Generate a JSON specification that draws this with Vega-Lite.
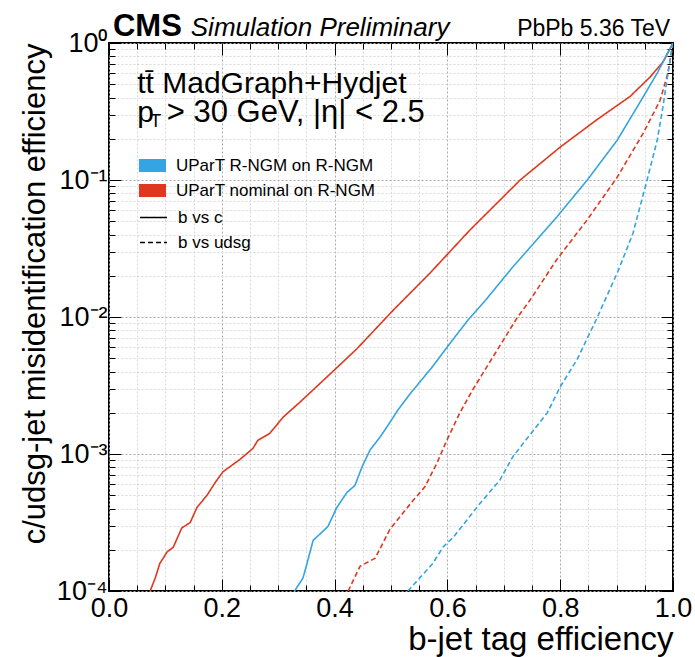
{
  "$schema": "https://vega.github.io/schema/vega-lite/v6.json",
  "width": 564,
  "height": 548,
  "autosize": {"type": "none"},
  "padding": {"left": 109, "top": 43, "right": 22, "bottom": 66},
  "background": "white",
  "config": {
    "font": "Liberation Sans",
    "view": {"stroke": "black", "strokeWidth": 2},
    "axis": {"domain": false, "tickColor": "black", "labelColor": "black", "titleColor": "black", "titleFontWeight": "normal"}
  },
  "datasets": {
    "curves": [
      {"eff": 0.073, "mis": 1.0e-4, "tagger": "UParT nominal on R-NGM", "comp": "b vs c"},
      {"eff": 0.082, "mis": 1.245e-4, "tagger": "UParT nominal on R-NGM", "comp": "b vs c"},
      {"eff": 0.090, "mis": 1.585e-4, "tagger": "UParT nominal on R-NGM", "comp": "b vs c"},
      {"eff": 0.103, "mis": 1.928e-4, "tagger": "UParT nominal on R-NGM", "comp": "b vs c"},
      {"eff": 0.114, "mis": 2.089e-4, "tagger": "UParT nominal on R-NGM", "comp": "b vs c"},
      {"eff": 0.129, "mis": 2.884e-4, "tagger": "UParT nominal on R-NGM", "comp": "b vs c"},
      {"eff": 0.144, "mis": 3.162e-4, "tagger": "UParT nominal on R-NGM", "comp": "b vs c"},
      {"eff": 0.156, "mis": 4.074e-4, "tagger": "UParT nominal on R-NGM", "comp": "b vs c"},
      {"eff": 0.174, "mis": 5.012e-4, "tagger": "UParT nominal on R-NGM", "comp": "b vs c"},
      {"eff": 0.188, "mis": 6.166e-4, "tagger": "UParT nominal on R-NGM", "comp": "b vs c"},
      {"eff": 0.202, "mis": 7.413e-4, "tagger": "UParT nominal on R-NGM", "comp": "b vs c"},
      {"eff": 0.232, "mis": 9.12e-4, "tagger": "UParT nominal on R-NGM", "comp": "b vs c"},
      {"eff": 0.255, "mis": 1.096e-3, "tagger": "UParT nominal on R-NGM", "comp": "b vs c"},
      {"eff": 0.264, "mis": 1.259e-3, "tagger": "UParT nominal on R-NGM", "comp": "b vs c"},
      {"eff": 0.285, "mis": 1.413e-3, "tagger": "UParT nominal on R-NGM", "comp": "b vs c"},
      {"eff": 0.309, "mis": 1.862e-3, "tagger": "UParT nominal on R-NGM", "comp": "b vs c"},
      {"eff": 0.339, "mis": 2.399e-3, "tagger": "UParT nominal on R-NGM", "comp": "b vs c"},
      {"eff": 0.404, "mis": 4.266e-3, "tagger": "UParT nominal on R-NGM", "comp": "b vs c"},
      {"eff": 0.440, "mis": 5.888e-3, "tagger": "UParT nominal on R-NGM", "comp": "b vs c"},
      {"eff": 0.504, "mis": 1.122e-2, "tagger": "UParT nominal on R-NGM", "comp": "b vs c"},
      {"eff": 0.569, "mis": 2.089e-2, "tagger": "UParT nominal on R-NGM", "comp": "b vs c"},
      {"eff": 0.640, "mis": 4.315e-2, "tagger": "UParT nominal on R-NGM", "comp": "b vs c"},
      {"eff": 0.729, "mis": 0.1, "tagger": "UParT nominal on R-NGM", "comp": "b vs c"},
      {"eff": 0.800, "mis": 0.1738, "tagger": "UParT nominal on R-NGM", "comp": "b vs c"},
      {"eff": 0.865, "mis": 0.2754, "tagger": "UParT nominal on R-NGM", "comp": "b vs c"},
      {"eff": 0.924, "mis": 0.4074, "tagger": "UParT nominal on R-NGM", "comp": "b vs c"},
      {"eff": 0.959, "mis": 0.5623, "tagger": "UParT nominal on R-NGM", "comp": "b vs c"},
      {"eff": 0.982, "mis": 0.7244, "tagger": "UParT nominal on R-NGM", "comp": "b vs c"},
      {"eff": 1.0, "mis": 1.0, "tagger": "UParT nominal on R-NGM", "comp": "b vs c"},

      {"eff": 0.329, "mis": 1.0e-4, "tagger": "UParT R-NGM on R-NGM", "comp": "b vs c"},
      {"eff": 0.344, "mis": 1.245e-4, "tagger": "UParT R-NGM on R-NGM", "comp": "b vs c"},
      {"eff": 0.351, "mis": 1.585e-4, "tagger": "UParT R-NGM on R-NGM", "comp": "b vs c"},
      {"eff": 0.362, "mis": 2.344e-4, "tagger": "UParT R-NGM on R-NGM", "comp": "b vs c"},
      {"eff": 0.388, "mis": 2.951e-4, "tagger": "UParT R-NGM on R-NGM", "comp": "b vs c"},
      {"eff": 0.404, "mis": 4.074e-4, "tagger": "UParT R-NGM on R-NGM", "comp": "b vs c"},
      {"eff": 0.422, "mis": 5.248e-4, "tagger": "UParT R-NGM on R-NGM", "comp": "b vs c"},
      {"eff": 0.436, "mis": 5.888e-4, "tagger": "UParT R-NGM on R-NGM", "comp": "b vs c"},
      {"eff": 0.449, "mis": 8.128e-4, "tagger": "UParT R-NGM on R-NGM", "comp": "b vs c"},
      {"eff": 0.463, "mis": 1.072e-3, "tagger": "UParT R-NGM on R-NGM", "comp": "b vs c"},
      {"eff": 0.480, "mis": 1.318e-3, "tagger": "UParT R-NGM on R-NGM", "comp": "b vs c"},
      {"eff": 0.498, "mis": 1.698e-3, "tagger": "UParT R-NGM on R-NGM", "comp": "b vs c"},
      {"eff": 0.512, "mis": 2.089e-3, "tagger": "UParT R-NGM on R-NGM", "comp": "b vs c"},
      {"eff": 0.534, "mis": 2.754e-3, "tagger": "UParT R-NGM on R-NGM", "comp": "b vs c"},
      {"eff": 0.574, "mis": 4.365e-3, "tagger": "UParT R-NGM on R-NGM", "comp": "b vs c"},
      {"eff": 0.605, "mis": 6.457e-3, "tagger": "UParT R-NGM on R-NGM", "comp": "b vs c"},
      {"eff": 0.637, "mis": 9.55e-3, "tagger": "UParT R-NGM on R-NGM", "comp": "b vs c"},
      {"eff": 0.667, "mis": 1.318e-2, "tagger": "UParT R-NGM on R-NGM", "comp": "b vs c"},
      {"eff": 0.716, "mis": 2.317e-2, "tagger": "UParT R-NGM on R-NGM", "comp": "b vs c"},
      {"eff": 0.794, "mis": 5.37e-2, "tagger": "UParT R-NGM on R-NGM", "comp": "b vs c"},
      {"eff": 0.848, "mis": 0.1, "tagger": "UParT R-NGM on R-NGM", "comp": "b vs c"},
      {"eff": 0.901, "mis": 0.195, "tagger": "UParT R-NGM on R-NGM", "comp": "b vs c"},
      {"eff": 0.936, "mis": 0.3388, "tagger": "UParT R-NGM on R-NGM", "comp": "b vs c"},
      {"eff": 0.972, "mis": 0.6026, "tagger": "UParT R-NGM on R-NGM", "comp": "b vs c"},
      {"eff": 0.991, "mis": 0.851, "tagger": "UParT R-NGM on R-NGM", "comp": "b vs c"},
      {"eff": 1.0, "mis": 1.0, "tagger": "UParT R-NGM on R-NGM", "comp": "b vs c"},

      {"eff": 0.424, "mis": 1.0e-4, "tagger": "UParT nominal on R-NGM", "comp": "b vs udsg"},
      {"eff": 0.445, "mis": 1.514e-4, "tagger": "UParT nominal on R-NGM", "comp": "b vs udsg"},
      {"eff": 0.472, "mis": 1.738e-4, "tagger": "UParT nominal on R-NGM", "comp": "b vs udsg"},
      {"eff": 0.498, "mis": 2.818e-4, "tagger": "UParT nominal on R-NGM", "comp": "b vs udsg"},
      {"eff": 0.539, "mis": 4.571e-4, "tagger": "UParT nominal on R-NGM", "comp": "b vs udsg"},
      {"eff": 0.560, "mis": 5.754e-4, "tagger": "UParT nominal on R-NGM", "comp": "b vs udsg"},
      {"eff": 0.581, "mis": 8.511e-4, "tagger": "UParT nominal on R-NGM", "comp": "b vs udsg"},
      {"eff": 0.599, "mis": 1.259e-3, "tagger": "UParT nominal on R-NGM", "comp": "b vs udsg"},
      {"eff": 0.622, "mis": 1.995e-3, "tagger": "UParT nominal on R-NGM", "comp": "b vs udsg"},
      {"eff": 0.645, "mis": 2.951e-3, "tagger": "UParT nominal on R-NGM", "comp": "b vs udsg"},
      {"eff": 0.681, "mis": 5.129e-3, "tagger": "UParT nominal on R-NGM", "comp": "b vs udsg"},
      {"eff": 0.711, "mis": 8.128e-3, "tagger": "UParT nominal on R-NGM", "comp": "b vs udsg"},
      {"eff": 0.723, "mis": 9.772e-3, "tagger": "UParT nominal on R-NGM", "comp": "b vs udsg"},
      {"eff": 0.746, "mis": 1.318e-2, "tagger": "UParT nominal on R-NGM", "comp": "b vs udsg"},
      {"eff": 0.794, "mis": 2.63e-2, "tagger": "UParT nominal on R-NGM", "comp": "b vs udsg"},
      {"eff": 0.848, "mis": 5.129e-2, "tagger": "UParT nominal on R-NGM", "comp": "b vs udsg"},
      {"eff": 0.901, "mis": 0.1047, "tagger": "UParT nominal on R-NGM", "comp": "b vs udsg"},
      {"eff": 0.947, "mis": 0.2188, "tagger": "UParT nominal on R-NGM", "comp": "b vs udsg"},
      {"eff": 0.977, "mis": 0.3802, "tagger": "UParT nominal on R-NGM", "comp": "b vs udsg"},
      {"eff": 0.991, "mis": 0.6026, "tagger": "UParT nominal on R-NGM", "comp": "b vs udsg"},
      {"eff": 1.0, "mis": 1.0, "tagger": "UParT nominal on R-NGM", "comp": "b vs udsg"},

      {"eff": 0.530, "mis": 1.0e-4, "tagger": "UParT R-NGM on R-NGM", "comp": "b vs udsg"},
      {"eff": 0.574, "mis": 1.585e-4, "tagger": "UParT R-NGM on R-NGM", "comp": "b vs udsg"},
      {"eff": 0.592, "mis": 2.089e-4, "tagger": "UParT R-NGM on R-NGM", "comp": "b vs udsg"},
      {"eff": 0.610, "mis": 2.455e-4, "tagger": "UParT R-NGM on R-NGM", "comp": "b vs udsg"},
      {"eff": 0.658, "mis": 4.365e-4, "tagger": "UParT R-NGM on R-NGM", "comp": "b vs udsg"},
      {"eff": 0.693, "mis": 6.457e-4, "tagger": "UParT R-NGM on R-NGM", "comp": "b vs udsg"},
      {"eff": 0.716, "mis": 9.55e-4, "tagger": "UParT R-NGM on R-NGM", "comp": "b vs udsg"},
      {"eff": 0.752, "mis": 1.479e-3, "tagger": "UParT R-NGM on R-NGM", "comp": "b vs udsg"},
      {"eff": 0.777, "mis": 1.995e-3, "tagger": "UParT R-NGM on R-NGM", "comp": "b vs udsg"},
      {"eff": 0.800, "mis": 3.09e-3, "tagger": "UParT R-NGM on R-NGM", "comp": "b vs udsg"},
      {"eff": 0.830, "mis": 4.898e-3, "tagger": "UParT R-NGM on R-NGM", "comp": "b vs udsg"},
      {"eff": 0.858, "mis": 8.511e-3, "tagger": "UParT R-NGM on R-NGM", "comp": "b vs udsg"},
      {"eff": 0.865, "mis": 9.772e-3, "tagger": "UParT R-NGM on R-NGM", "comp": "b vs udsg"},
      {"eff": 0.879, "mis": 1.318e-2, "tagger": "UParT R-NGM on R-NGM", "comp": "b vs udsg"},
      {"eff": 0.901, "mis": 2.089e-2, "tagger": "UParT R-NGM on R-NGM", "comp": "b vs udsg"},
      {"eff": 0.929, "mis": 4.074e-2, "tagger": "UParT R-NGM on R-NGM", "comp": "b vs udsg"},
      {"eff": 0.954, "mis": 0.1, "tagger": "UParT R-NGM on R-NGM", "comp": "b vs udsg"},
      {"eff": 0.972, "mis": 0.195, "tagger": "UParT R-NGM on R-NGM", "comp": "b vs udsg"},
      {"eff": 0.982, "mis": 0.3388, "tagger": "UParT R-NGM on R-NGM", "comp": "b vs udsg"},
      {"eff": 0.991, "mis": 0.6026, "tagger": "UParT R-NGM on R-NGM", "comp": "b vs udsg"},
      {"eff": 1.0, "mis": 1.0, "tagger": "UParT R-NGM on R-NGM", "comp": "b vs udsg"}
    ],
    "labels": [
      {"eff": 0.007, "mis": 1.12, "text": "CMS", "kind": "cms"},
      {"eff": 0.145, "mis": 1.12, "text": "Simulation Preliminary", "kind": "sim"},
      {"eff": 0.995, "mis": 1.12, "text": "PbPb 5.36 TeV", "kind": "energy"},
      {"eff": 0.050, "mis": 0.43, "text": "tt̄ MadGraph+Hydjet", "kind": "big"},
      {"eff": 0.050, "mis": 0.265, "text": "p", "kind": "big"},
      {"eff": 0.1025, "mis": 0.265, "text": "> 30 GeV, |η| < 2.5", "kind": "big2"},
      {"eff": 0.073, "mis": 0.243, "text": "T", "kind": "sub"}
    ]
  },
  "resolve": {"axis": {"x": "independent", "y": "independent"}},
  "layer": [
    {
      "data": {"name": "curves"},
      "mark": {"type": "line", "strokeWidth": 1.6, "clip": true},
      "encoding": {
        "x": {
          "field": "eff", "type": "quantitative",
          "scale": {"domain": [0, 1], "nice": false, "zero": false},
          "axis": {
            "orient": "bottom", "values": [0, 0.2, 0.4, 0.6, 0.8, 1.0], "format": ".1f",
            "title": "b-jet tag efficiency", "titleFontSize": 33, "titleAnchor": "end", "titlePadding": 2,
            "labelFontSize": 27, "labelPadding": 16, "labelFlush": false,
            "tickSize": -12, "tickWidth": 1,
            "grid": true, "gridColor": "#aaaaaa", "gridDash": [2, 2], "gridWidth": 1
          }
        },
        "y": {
          "field": "mis", "type": "quantitative",
          "scale": {"type": "log", "domain": [0.0001, 1], "nice": false},
          "axis": {
            "orient": "left", "values": [0.0001, 0.001, 0.01, 0.1, 1],
            "labelExpr": "datum.value >= 0.5 ? '10⁰' : datum.value >= 0.05 ? '10⁻¹' : datum.value >= 0.005 ? '10⁻²' : datum.value >= 0.0005 ? '10⁻³' : '10⁻⁴'",
            "title": "c/udsg-jet misidentification efficiency", "titleFontSize": 31, "titleAnchor": "end", "titlePadding": 5,
            "labelFontSize": 27, "labelPadding": 14, "labelFlush": false,
            "tickSize": -12, "tickWidth": 1,
            "grid": true, "gridColor": "#aaaaaa", "gridDash": [2, 2], "gridWidth": 1
          }
        },
        "color": {
          "field": "tagger", "type": "nominal",
          "scale": {"domain": ["UParT R-NGM on R-NGM", "UParT nominal on R-NGM"], "range": ["#34a4e2", "#e0381f"]},
          "legend": {
            "orient": "none", "legendX": 30, "legendY": 109, "title": null, "padding": 0,
            "symbolType": "M-1,-0.48H1V0.48H-1Z", "symbolSize": 729, "symbolStrokeWidth": 0,
            "labelFontSize": 17, "labelOffset": 10, "rowPadding": 3, "labelLimit": 400,
            "encode": {"symbols": {"update": {"fill": {"scale": "color", "field": "value"}, "stroke": {"value": "transparent"}}}}
          }
        },
        "strokeDash": {
          "field": "comp", "type": "nominal",
          "scale": {"domain": ["b vs c", "b vs udsg"], "range": [[1, 0], [5, 3]]},
          "legend": {
            "orient": "none", "legendX": 30, "legendY": 160, "title": null, "padding": 0,
            "symbolType": "stroke", "symbolSize": 729, "symbolStrokeColor": "black", "symbolStrokeWidth": 1.3,
            "labelFontSize": 17, "labelOffset": 10, "rowPadding": 2, "labelLimit": 400
          }
        }
      }
    },
    {
      "data": {"name": "curves"},
      "mark": {"type": "point", "opacity": 0},
      "encoding": {
        "x": {"field": "eff", "type": "quantitative", "axis": {
          "orient": "bottom", "values": [0.05, 0.1, 0.15, 0.25, 0.3, 0.35, 0.45, 0.5, 0.55, 0.65, 0.7, 0.75, 0.85, 0.9, 0.95],
          "labels": false, "title": null, "tickSize": -6, "grid": true, "gridColor": "#d8d8d8", "gridDash": [2, 2]}},
        "y": {"field": "mis", "type": "quantitative", "axis": {
          "orient": "left",
          "values": [0.0002, 0.0003, 0.0004, 0.0005, 0.0006, 0.0007, 0.0008, 0.0009, 0.002, 0.003, 0.004, 0.005, 0.006, 0.007, 0.008, 0.009, 0.02, 0.03, 0.04, 0.05, 0.06, 0.07, 0.08, 0.09, 0.2, 0.3, 0.4, 0.5, 0.6, 0.7, 0.8, 0.9],
          "labels": false, "title": null, "tickSize": -6, "grid": true, "gridColor": "#d8d8d8", "gridDash": [2, 2]}}
      }
    },
    {
      "data": {"name": "curves"},
      "mark": {"type": "point", "opacity": 0},
      "encoding": {
        "x": {"field": "eff", "type": "quantitative", "axis": {
          "orient": "top", "values": [0, 0.2, 0.4, 0.6, 0.8, 1.0], "labels": false, "title": null, "tickSize": -12, "grid": false}},
        "y": {"field": "mis", "type": "quantitative", "axis": {
          "orient": "right", "values": [0.0001, 0.001, 0.01, 0.1, 1], "labels": false, "title": null, "tickSize": -12, "grid": false}}
      }
    },
    {
      "data": {"name": "curves"},
      "mark": {"type": "point", "opacity": 0},
      "encoding": {
        "x": {"field": "eff", "type": "quantitative", "axis": {
          "orient": "top", "values": [0.05, 0.1, 0.15, 0.25, 0.3, 0.35, 0.45, 0.5, 0.55, 0.65, 0.7, 0.75, 0.85, 0.9, 0.95],
          "labels": false, "title": null, "tickSize": -6, "grid": false}},
        "y": {"field": "mis", "type": "quantitative", "axis": {
          "orient": "right",
          "values": [0.0002, 0.0003, 0.0004, 0.0005, 0.0006, 0.0007, 0.0008, 0.0009, 0.002, 0.003, 0.004, 0.005, 0.006, 0.007, 0.008, 0.009, 0.02, 0.03, 0.04, 0.05, 0.06, 0.07, 0.08, 0.09, 0.2, 0.3, 0.4, 0.5, 0.6, 0.7, 0.8, 0.9],
          "labels": false, "title": null, "tickSize": -6, "grid": false}}
      }
    },
    {
      "data": {"name": "labels"},
      "transform": [{"filter": "datum.kind == 'cms'"}],
      "mark": {"type": "text", "align": "left", "baseline": "alphabetic", "fontSize": 31, "fontWeight": "bold"},
      "encoding": {
        "x": {"field": "eff", "type": "quantitative", "axis": null},
        "y": {"field": "mis", "type": "quantitative", "axis": null},
        "text": {"field": "text"}
      }
    },
    {
      "data": {"name": "labels"},
      "transform": [{"filter": "datum.kind == 'sim'"}],
      "mark": {"type": "text", "align": "left", "baseline": "alphabetic", "fontSize": 26, "fontStyle": "italic"},
      "encoding": {
        "x": {"field": "eff", "type": "quantitative", "axis": null},
        "y": {"field": "mis", "type": "quantitative", "axis": null},
        "text": {"field": "text"}
      }
    },
    {
      "data": {"name": "labels"},
      "transform": [{"filter": "datum.kind == 'energy'"}],
      "mark": {"type": "text", "align": "right", "baseline": "alphabetic", "fontSize": 23},
      "encoding": {
        "x": {"field": "eff", "type": "quantitative", "axis": null},
        "y": {"field": "mis", "type": "quantitative", "axis": null},
        "text": {"field": "text"}
      }
    },
    {
      "data": {"name": "labels"},
      "transform": [{"filter": "datum.kind == 'big'"}],
      "mark": {"type": "text", "align": "left", "baseline": "alphabetic", "fontSize": 30},
      "encoding": {
        "x": {"field": "eff", "type": "quantitative", "axis": null},
        "y": {"field": "mis", "type": "quantitative", "axis": null},
        "text": {"field": "text"}
      }
    },
    {
      "data": {"name": "labels"},
      "transform": [{"filter": "datum.kind == 'big2'"}],
      "mark": {"type": "text", "align": "left", "baseline": "alphabetic", "fontSize": 31},
      "encoding": {
        "x": {"field": "eff", "type": "quantitative", "axis": null},
        "y": {"field": "mis", "type": "quantitative", "axis": null},
        "text": {"field": "text"}
      }
    },
    {
      "data": {"name": "labels"},
      "transform": [{"filter": "datum.kind == 'sub'"}],
      "mark": {"type": "text", "align": "left", "baseline": "alphabetic", "fontSize": 18},
      "encoding": {
        "x": {"field": "eff", "type": "quantitative", "axis": null},
        "y": {"field": "mis", "type": "quantitative", "axis": null},
        "text": {"field": "text"}
      }
    }
  ]
}
